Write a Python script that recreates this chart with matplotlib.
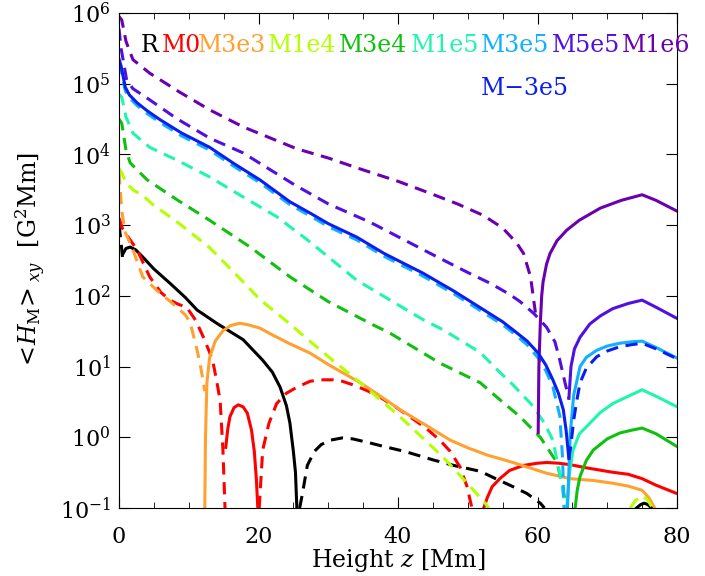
# mean magnetic helicity vs height for the different runs
import numpy as np
import matplotlib.pyplot as plt

plt.rcParams['font.family'] = ['DejaVu Serif']
plt.rcParams['mathtext.fontset'] = 'dejavuserif'

# run names and colours
runs = ['R', 'M0', 'M3e3', 'M1e4', 'M3e4', 'M1e5', 'M3e5', 'M5e5', 'M1e6', 'M\u22123e5']
colors = ['black', '#ff0000', '#ffa030', '#b4ff00', '#10c010', '#20f5b0',
          '#10b0ff', '#5010e0', '#6a00b0', '#0a1ef0']

# R
r_dash1_x = [0, 0.25, 0.5]
r_dash1_y = [1000, 630, 355]
r_sol1_x = [0.6, 1.0, 1.6, 2.4, 3.4, 5.0, 7.3, 9.5, 11.2, 14.0, 17.8, 20.6, 22.0, 23.1, 24.0, 24.5, 25.0, 25.3, 25.5]
r_sol1_y = [398, 468, 490, 447, 355, 240, 151, 95, 63, 41, 24, 12.3, 8.3, 5.1, 2.8, 1.6, 0.63, 0.32, 0.1]
r_dash2_x = [25.9, 26.3, 27.0, 28.0, 29.0, 30.3, 32.0, 33.5, 36.0, 38.0, 41.0, 45.0, 48.0, 51.8, 54.0, 56.5, 58.5, 60.4, 61.0]
r_dash2_y = [0.1, 0.16, 0.4, 0.63, 0.79, 0.91, 0.98, 0.95, 0.83, 0.74, 0.63, 0.48, 0.4, 0.33, 0.26, 0.2, 0.16, 0.117, 0.1]
r_sol2_x = [74.2, 74.8, 75.3, 75.8, 76.4]
r_sol2_y = [0.1, 0.112, 0.117, 0.112, 0.1]

# M0
m0_dash1_x = [0, 0.5, 0.9, 2.6, 4.4, 6.0, 7.3, 8.5, 9.7, 11.0, 12.1, 13.0, 13.5, 14.0, 14.5, 14.9, 15.2]
m0_dash1_y = [1260, 890, 776, 447, 186, 112, 87, 76, 69, 45, 26, 15.8, 11.2, 6.3, 3.3, 0.66, 0.1]
m0_sol1_x = [15.3, 15.6, 15.9, 16.5, 17.1, 17.8, 18.4, 19.0, 19.4, 19.7, 19.9]
m0_sol1_y = [0.72, 1.32, 1.95, 2.63, 2.88, 2.69, 2.19, 1.26, 0.63, 0.25, 0.1]
m0_dash2_x = [20.1, 20.6, 21.5, 22.6, 24.0, 25.5, 27.4, 29.0, 30.7, 32.0, 33.6, 35.5, 37.4, 39.5, 41.7, 44.0, 46.0, 47.5, 48.9, 49.9, 50.6]
m0_dash2_y = [0.1, 0.66, 1.58, 3.0, 4.2, 5.1, 6.2, 6.5, 6.5, 6.2, 5.5, 4.6, 3.7, 2.75, 1.95, 1.35, 0.91, 0.63, 0.38, 0.2, 0.1]
m0_sol2_x = [52.3, 52.8, 53.5, 54.6, 56.0, 58.0, 60.0, 61.3, 63.0, 64.7, 67.0, 70.8, 73.0, 75.0, 77.0, 80.0]
m0_sol2_y = [0.1, 0.14, 0.2, 0.26, 0.34, 0.4, 0.43, 0.44, 0.43, 0.41, 0.37, 0.32, 0.3, 0.26, 0.21, 0.16]

# M3e3
m3e3_dash_x = [0, 0.4, 0.9, 2.0, 3.4, 5.4, 7.0, 8.3, 9.5, 10.2, 11.2, 11.7, 12.1, 12.3]
m3e3_dash_y = [5600, 1580, 790, 447, 186, 120, 89, 69, 54, 42, 17, 10, 5.9, 4.5]
m3e3_sol_x = [12.3, 12.4, 12.6, 13.0, 13.8, 14.9, 16.0, 17.3, 18.5, 20.2, 22.0, 24.5, 27.4, 30.0, 34.6, 37.5,
              40.3, 44.0, 47.5, 50.0, 52.8, 56.5, 61.3, 64.7, 68.0, 70.8, 73.0, 75.0, 76.0, 76.8]
m3e3_sol_y = [0.1, 1.0, 5.9, 13.5, 23, 32, 38, 41, 39, 35, 28, 21, 15.5, 10.7, 5.9, 3.8,
              2.45, 1.48, 0.91, 0.71, 0.56, 0.44, 0.31, 0.26, 0.245, 0.224, 0.204, 0.178, 0.138, 0.1]

# M1e4
m1e4_dash1_x = [0, 0.4, 1.0, 2.0, 3.4, 5.0, 8.3, 13.0, 16.5, 20.2, 24.0, 27.0, 30.5, 34.6, 40.3, 46.5, 50.8, 52.5, 53.0]
m1e4_dash1_y = [6300, 5500, 4000, 3160, 2630, 1900, 1120, 480, 214, 89, 44, 24.5, 12.6, 5.9, 1.95, 0.52, 0.18, 0.117, 0.1]
m1e4_dash2_x = [73.3, 74.0, 75.0, 75.8, 76.5]
m1e4_dash2_y = [0.1, 0.126, 0.15, 0.13, 0.1]

# M3e4
m3e4_dash_x = [0, 0.4, 1.0, 1.6, 4.0, 8.3, 13.0, 18.8, 24.5, 30.0, 36.4, 38.9, 46.0, 51.8, 54.6, 57.5, 60.4, 62.8, 63.7, 64.1]
m3e4_dash_y = [31600, 27500, 11500, 7600, 4400, 2290, 1170, 490, 186, 83, 39, 29.5, 11.2, 5.9, 3.4, 1.95, 1.0, 0.44, 0.18, 0.1]
m3e4_sol_x = [65.4, 65.7, 66.1, 67.0, 68.0, 70.0, 71.8, 73.5, 75.0, 77.0, 80.0]
m3e4_sol_y = [0.1, 0.18, 0.28, 0.47, 0.66, 0.95, 1.15, 1.26, 1.35, 1.12, 0.74]

# M1e5
m1e5_dash_x = [0, 0.4, 1.0, 2.0, 4.4, 8.3, 13.0, 17.8, 22.6, 27.0, 34.1, 43.6, 46.5, 51.8, 54.6, 56.5, 59.3, 61.0, 62.2, 63.5, 63.9]
m1e5_dash_y = [70800, 64600, 33900, 20000, 12600, 8300, 4800, 2500, 1320, 620, 166, 46, 33, 15.8, 8.3, 5.5, 2.8, 1.58, 0.91, 0.22, 0.1]
m1e5_sol_x = [64.2, 64.6, 65.1, 66.0, 67.5, 69.0, 70.8, 73.0, 75.0, 77.0, 80.0]
m1e5_sol_y = [0.1, 0.32, 0.66, 1.12, 1.58, 2.24, 3.0, 3.8, 4.7, 3.8, 2.7]

# M3e5
m3e5_dash_x = [0, 0.3, 0.9, 1.5, 2.6, 4.0, 5.9, 9.0, 13.0, 16.5, 20.2, 24.5, 27.4, 30.0, 34.1, 38.0, 43.6,
               48.0, 51.8, 55.0, 56.5, 58.5, 60.1, 61.2, 62.2, 63.2, 63.6, 63.8]
m3e5_dash_y = [200000, 158000, 79400, 63000, 49000, 38000, 28200, 18200, 11500, 6760, 3980, 1950, 1350, 955, 617, 363, 190,
               107, 62, 39, 30, 20.4, 13.2, 8.7, 5.2, 2.0, 0.5, 0.1]
m3e5_sol_x = [64.3, 64.7, 65.2, 66.1, 67.0, 68.5, 70.0, 71.8, 73.5, 75.0, 77.0, 80.0]
m3e5_sol_y = [0.1, 1.15, 4.0, 10.0, 13.5, 17, 19.5, 21.4, 22.4, 22.9, 18.6, 13.2]

# M5e5
m5e5_dash_x = [0, 0.3, 1.1, 2.0, 4.0, 8.3, 13.0, 17.8, 25.2, 30.0, 36.0, 44.6, 50.0, 53.2, 56.0, 57.5, 59.5, 61.3, 62.5, 63.2, 64.0, 64.5]
m5e5_dash_y = [603000, 316000, 112000, 85000, 63000, 32000, 17000, 10500, 3700, 2000, 1100, 400, 214, 151, 105, 83, 56, 36, 22.4, 12.3, 5.6, 3.55]
m5e5_sol_x = [64.5, 64.8, 65.3, 66.1, 67.5, 69.0, 70.8, 73.0, 75.0, 77.0, 80.0]
m5e5_sol_y = [3.55, 10, 17.8, 26, 40, 52, 66, 78, 87, 69, 48]

# M1e6
m1e6_dash_x = [0, 0.4, 1.0, 2.0, 4.4, 8.7, 13.0, 17.8, 25.5, 30.0, 34.1, 40.0, 44.6, 48.5, 52.2, 55.0, 57.0, 58.0, 59.0, 59.7]
m1e6_dash_y = [891000, 794000, 398000, 219000, 141000, 76000, 42700, 24500, 12000, 8900, 6460, 4170, 2820, 2000, 1380, 912, 562, 398, 186, 58]
m1e6_sol_x = [60.1, 60.2, 60.4, 60.6, 60.8, 61.3, 61.8, 62.8, 64.2, 66.0, 69.0, 72.0, 75.0, 77.0, 80.0]
m1e6_sol_y = [1.17, 10, 40, 100, 158, 282, 398, 603, 851, 1175, 1740, 2240, 2690, 2240, 1580]

# M-3e5
mm3e5_sol_x = [0, 0.3, 0.9, 1.5, 2.6, 4.0, 5.9, 9.0, 13.0, 16.5, 20.2, 24.5, 27.4, 30.0, 34.1, 38.0, 43.6,
               48.0, 51.8, 55.0, 56.5, 58.5, 60.1, 61.2, 62.2, 63.0, 63.7, 64.1, 64.5]
mm3e5_sol_y = [224000, 178000, 89100, 69200, 53700, 41700, 30900, 20000, 12600, 7400, 4370, 2140, 1480, 1050, 676, 398, 209,
               117, 68, 43, 33, 23, 15.5, 10.5, 6.5, 4.2, 2.45, 1.26, 0.5]
mm3e5_dash_x = [64.5, 64.8, 65.2, 65.6, 66.1, 67.0, 68.5, 70.0, 71.8, 73.5, 75.0, 77.0, 80.0]
mm3e5_dash_y = [0.5, 0.79, 1.78, 3.16, 5.9, 9.5, 13.8, 16.6, 19.1, 20.4, 21.4, 17.8, 12.9]

# solid = positive, dashed = negative; list of (run index, x, y, dashed)
curves = [
    (0, r_dash1_x, r_dash1_y, True), (0, r_sol1_x, r_sol1_y, False),
    (0, r_dash2_x, r_dash2_y, True), (0, r_sol2_x, r_sol2_y, False),
    (1, m0_dash1_x, m0_dash1_y, True), (1, m0_sol1_x, m0_sol1_y, False),
    (1, m0_dash2_x, m0_dash2_y, True), (1, m0_sol2_x, m0_sol2_y, False),
    (2, m3e3_dash_x, m3e3_dash_y, True), (2, m3e3_sol_x, m3e3_sol_y, False),
    (3, m1e4_dash1_x, m1e4_dash1_y, True), (3, m1e4_dash2_x, m1e4_dash2_y, True),
    (4, m3e4_dash_x, m3e4_dash_y, True), (4, m3e4_sol_x, m3e4_sol_y, False),
    (5, m1e5_dash_x, m1e5_dash_y, True), (5, m1e5_sol_x, m1e5_sol_y, False),
    (6, m3e5_dash_x, m3e5_dash_y, True), (6, m3e5_sol_x, m3e5_sol_y, False),
    (7, m5e5_dash_x, m5e5_dash_y, True), (7, m5e5_sol_x, m5e5_sol_y, False),
    (8, m1e6_dash_x, m1e6_dash_y, True), (8, m1e6_sol_x, m1e6_sol_y, False),
    (9, mm3e5_sol_x, mm3e5_sol_y, False), (9, mm3e5_dash_x, mm3e5_dash_y, True),
]

fig = plt.figure(figsize=(7.05, 5.76), dpi=100)
ax = fig.add_axes([119/705, 68/576, 558/705, 495/576])

for i, x, y, dashed in curves:
    ls = (0, (4, 2.5)) if dashed else '-'
    ax.plot(x, y, color=colors[i], lw=2.2, ls=ls)

ax.set_yscale('log')
ax.set_xlim(0, 80)
ax.set_ylim(1e-1, 1e6)
ax.set_xticks([0, 20, 40, 60, 80])
ax.set_xticks(np.arange(0, 81, 5), minor=True)
ax.set_yticks([10.0**k for k in range(-1, 7)])
ax.yaxis.set_minor_locator(plt.NullLocator())
ax.tick_params(which='both', direction='in', top=True, right=True, labelsize=16)
ax.tick_params(which='major', length=8)
ax.tick_params(which='minor', length=4)
ax.tick_params(axis='x', pad=13)
ax.tick_params(axis='y', pad=6)

ax.set_xlabel('Height $z$ [Mm]', fontsize=17, labelpad=-1)
ax.set_ylabel(r'$<\!H_{\rm M}\!>_{xy}$  [G$^2$Mm]', fontsize=17, labelpad=8)

# run labels in their colours
lab_x = [0.039, 0.077, 0.142, 0.267, 0.394, 0.523, 0.649, 0.776, 0.901, 0.649]
lab_y = [0.935] * 9 + [0.848]
for i in range(len(runs)):
    ax.text(lab_x[i], lab_y[i], runs[i], color=colors[i], fontsize=17,
            ha='left', va='center', transform=ax.transAxes)

fig.savefig('out.png', dpi=100)
